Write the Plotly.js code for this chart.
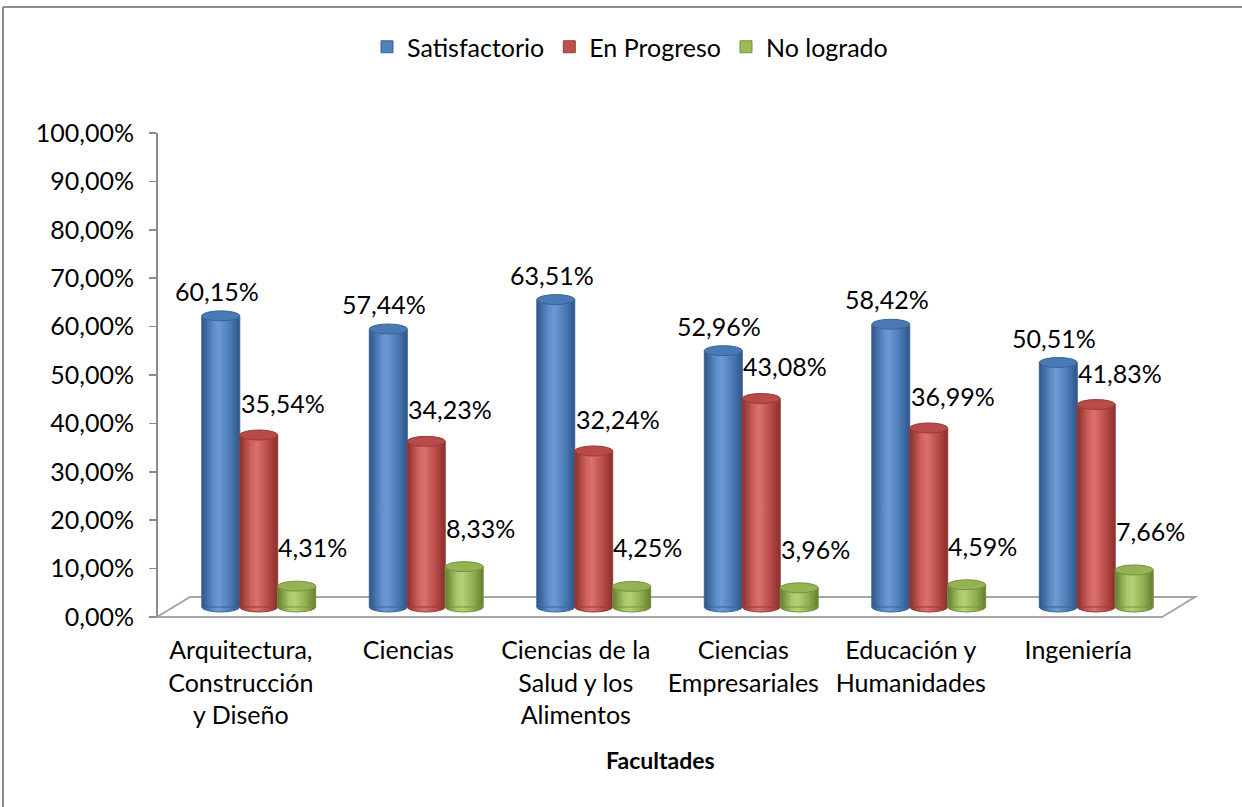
<!DOCTYPE html>
<html>
<head>
<meta charset="utf-8">
<script src="https://cdn.plot.ly/plotly-3.0.1.min.js"></script>
<style>html,body{margin:0;padding:0;background:#fff;}#chart{width:1242px;height:807px;}</style>
</head>
<body>
<div id="chart"></div>
<script>
// ---- data ----
const categories = ["Arquitectura,<br>Construcción<br>y Diseño", "Ciencias", "Ciencias de la<br>Salud y los<br>Alimentos", "Ciencias<br>Empresariales", "Educación y<br>Humanidades", "Ingeniería"];
const seriesNames = ["Satisfactorio", "En Progreso", "No logrado"];
const satisfactorio = [60.15, 57.44, 63.51, 52.96, 58.42, 50.51];
const enProgreso = [35.54, 34.23, 32.24, 43.08, 36.99, 41.83];
const noLogrado = [4.31, 8.33, 4.25, 3.96, 4.59, 7.66];
const yTicks = [0, 10, 20, 30, 40, 50, 60, 70, 80, 90, 100];

// ---- styling / geometry ----
const W = 1242, H = 807;
const colors = ["#4F81BD", "#C0504D", "#9BBB59"];
const darks = ["#3B6597", "#953C39", "#76923C"];
const tops = ["#4A7AB5", "#B94A47", "#93B354"];
const FONT = "Lato, 'Open Sans', sans-serif";
const FS = 25;
const pxPerUnit = (617 - 133) / 100;
const baseOff = 10 / pxPerUnit;          // 3-D floor lift of bar bases
const bargap = 0.32;
const bw = (1 - bargap) / 3;
const ellH = 5 / pxPerUnit;
const labelShift = [[-4, 25], [24, 32], [16, 39]];
const xs = categories.map((c, i) => i);
const allSeries = [satisfactorio, enProgreso, noLogrado];
const fmt = v => v.toFixed(2).replace('.', ',') + '%';
const px = x => x / W, py = y => 1 - y / H;

const traces = allSeries.map((vals, s) => ({
  type: 'bar', name: seriesNames[s], x: xs, y: vals,
  base: vals.map(() => baseOff),
  marker: { color: colors[s], line: { color: darks[s], width: 1 } },
  hoverinfo: 'name+y'
}));

const shapes = [];
const annotations = [];
allSeries.forEach((vals, s) => {
  vals.forEach((v, i) => {
    const cx = i + (s - 1) * bw;
    shapes.push({ type: 'circle', xref: 'x', yref: 'y', layer: 'below',
      x0: cx - bw / 2, x1: cx + bw / 2, y0: baseOff - ellH, y1: baseOff + ellH,
      fillcolor: colors[s], line: { color: darks[s], width: 1 } });
    shapes.push({ type: 'circle', xref: 'x', yref: 'y', layer: 'above',
      x0: cx - bw / 2, x1: cx + bw / 2, y0: baseOff + v - ellH, y1: baseOff + v + ellH,
      fillcolor: tops[s], line: { color: darks[s], width: 1 } });
    annotations.push({ x: cx, y: baseOff + v, xref: 'x', yref: 'y', text: fmt(v), showarrow: false,
      xshift: labelShift[s][0], yshift: labelShift[s][1], font: { family: FONT, size: FS, color: '#000' } });
  });
});

// X-axis title
annotations.push({ xref: 'paper', yref: 'paper', x: px(660), y: py(760), xanchor: 'center', yanchor: 'middle',
  text: '<b>Facultades</b>', showarrow: false, font: { family: FONT, size: 23, color: '#000' } });

// floor (3-D base plane)
shapes.unshift({ type: 'path', xref: 'paper', yref: 'paper', layer: 'below',
  path: `M ${px(157)} ${py(617)} L ${px(1162)} ${py(617)} L ${px(1195)} ${py(597)} L ${px(190)} ${py(597)} Z`,
  fillcolor: '#FFFFFF', line: { color: '#A6A6A6', width: 2 } });
// chart border (top & left visible)
shapes.push({ type: 'line', xref: 'paper', yref: 'paper', x0: px(3), x1: px(1242), y0: py(7), y1: py(7), line: { color: '#8C8C8C', width: 2 } });
shapes.push({ type: 'line', xref: 'paper', yref: 'paper', x0: px(3), x1: px(3), y0: py(7), y1: py(807), line: { color: '#8C8C8C', width: 2 } });

const layout = {
  width: W, height: H,
  margin: { l: 0, r: 0, t: 0, b: 0, pad: 0 },
  paper_bgcolor: '#FFFFFF', plot_bgcolor: 'rgba(0,0,0,0)',
  separators: ',.',
  barmode: 'group', bargap: bargap, bargroupgap: 0,
  font: { family: FONT, size: FS, color: '#000' },
  showlegend: true,
  legend: { orientation: 'h', x: px(630), xanchor: 'center', y: py(47), yanchor: 'middle',
    font: { family: FONT, size: FS, color: '#000' }, traceorder: 'normal' },
  xaxis: {
    type: 'linear', domain: [px(175), px(1180)], range: [-0.5, 5.5],
    tickvals: xs.map(i => i - 0.107), ticktext: categories,
    showgrid: false, zeroline: false, showline: false, ticks: '',
    ticklabelstandoff: 16,
    tickfont: { family: FONT, size: FS, color: '#000' },
    automargin: false, fixedrange: true
  },
  yaxis: {
    domain: [py(617), py(133)], range: [0, 100], anchor: 'free', position: px(157),
    tickvals: yTicks, ticktext: yTicks.map(fmt),
    showgrid: false, zeroline: false, showline: true, linecolor: '#8C8C8C', linewidth: 2,
    ticks: 'outside', ticklen: 7, tickcolor: '#8C8C8C', tickwidth: 1.5,
    ticklabelstandoff: 10,
    tickfont: { family: FONT, size: FS, color: '#000' },
    automargin: false, fixedrange: true
  },
  shapes: shapes,
  annotations: annotations
};

Plotly.newPlot('chart', traces, layout, { displayModeBar: false, staticPlot: true }).then(gd => {
  const svg = gd.querySelector('.main-svg');
  const ns = 'http://www.w3.org/2000/svg';
  let defs = svg.querySelector('defs');
  if (!defs) { defs = document.createElementNS(ns, 'defs'); svg.insertBefore(defs, svg.firstChild); }
  const stops = [
    ["#2E5588", "#5B8CC8", "#6E9AD2", "#4A7AB5", "#2E5588"],
    ["#86302D", "#D0605C", "#D8726E", "#B94A47", "#86302D"],
    ["#647D30", "#A8C766", "#B4D175", "#8DAE4E", "#647D30"]
  ];
  stops.forEach((st, s) => {
    const g = document.createElementNS(ns, 'linearGradient');
    g.setAttribute('id', 'cyl' + s);
    g.setAttribute('x1', '0'); g.setAttribute('x2', '1'); g.setAttribute('y1', '0'); g.setAttribute('y2', '0');
    [0, 0.3, 0.45, 0.75, 1].forEach((o, k) => {
      const sp = document.createElementNS(ns, 'stop');
      sp.setAttribute('offset', o); sp.setAttribute('stop-color', st[k]);
      g.appendChild(sp);
    });
    defs.appendChild(g);
  });
  gd.querySelectorAll('.barlayer .trace').forEach((tr, s) => {
    tr.querySelectorAll('.point path').forEach(p => { p.style.fill = `url(#cyl${s})`; });
  });
  gd.querySelectorAll('.shapelayer path').forEach(p => {
    const f = p.style.fill;
    const map = { 'rgb(79, 129, 189)': 0, 'rgb(192, 80, 77)': 1, 'rgb(155, 187, 89)': 2 };
    if (f in map) p.style.fill = `url(#cyl${map[f]})`;
  });
});
</script>
</body>
</html>
